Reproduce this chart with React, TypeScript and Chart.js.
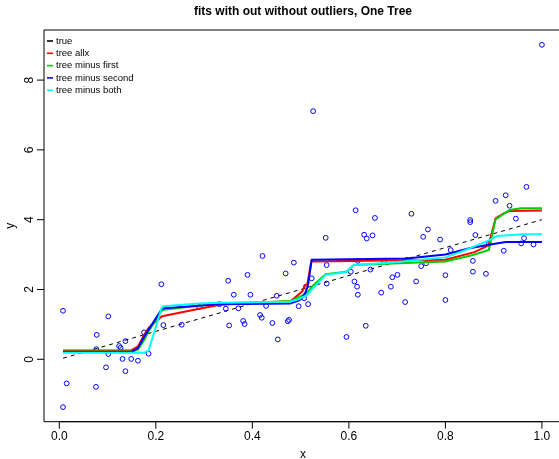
import React, { useEffect, useRef } from "react";
import { Chart, registerables } from "chart.js";

Chart.register(...registerables);

const titleText = "fits with out without outliers, One Tree";
const xTicks = [0, 0.2, 0.4, 0.6, 0.8, 1.0];
const xTickLabels = ["0.0", "0.2", "0.4", "0.6", "0.8", "1.0"];
const yTicks = [0, 2, 4, 6, 8];
const yTickLabels = ["0", "2", "4", "6", "8"];
const legendLabels = ["true", "tree allx", "tree minus first", "tree minus second", "tree minus both"];
const legendColors = ["#000000", "#FF0000", "#00CD00", "#0000FF", "#00FFFF"];

const pointX = [
  0.0077, 0.1016, 0.0775, 0.0767, 0.1756, 0.137, 0.124, 0.127, 0.1016, 0.185,
  0.131, 0.149, 0.163, 0.0968, 0.137, 0.0153, 0.076, 0.0077, 0.2115, 0.2156,
  0.2537, 0.29, 0.3317, 0.345, 0.35, 0.352, 0.3615, 0.371, 0.381, 0.384,
  0.39, 0.396, 0.421, 0.416, 0.4195, 0.4285, 0.4415, 0.4506, 0.4527, 0.469,
  0.486, 0.4735, 0.476, 0.496, 0.5073, 0.5156, 0.523, 0.511, 0.526, 0.552,
  0.554, 0.554, 0.595, 0.604, 0.6115, 0.617, 0.6186, 0.6186, 0.614, 0.6316,
  0.637, 0.649, 0.654, 0.635, 0.6447, 0.667, 0.673, 0.687, 0.69, 0.7007,
  0.7166, 0.72, 0.7297, 0.7394, 0.7498, 0.76, 0.754, 0.7637, 0.789, 0.8,
  0.8, 0.811, 0.8514, 0.8514, 0.862, 0.857, 0.857, 0.884, 0.89, 0.904,
  0.925, 0.933, 0.946, 0.968, 0.963, 0.957, 0.9826, 0.921, 1.0,
];
const pointY = [
  1.39, 1.23, 0.7, 0.29, 0.77, 0.52, 0.38, 0.33, 0.15, 0.16,
  0.01, 0.01, -0.04, -0.23, -0.34, -0.69, -0.79, -1.37, 2.15, 0.98,
  0.99, 1.5, 1.58, 1.45, 2.25, 0.97, 1.85, 1.46, 1.1, 1.01,
  2.42, 1.85, 2.96, 1.27, 1.19, 1.53, 1.04, 1.82, 0.57, 2.46,
  2.77, 1.09, 1.13, 1.52, 1.75, 1.58, 2.32, 2.08, 7.11, 3.48,
  2.17, 2.7, 0.64, 2.51, 2.23, 2.08, 1.85, 2.82, 4.27, 3.57,
  3.46, 3.55, 4.05, 0.96, 2.57, 1.91, 2.82, 2.08, 2.35, 2.42,
  1.64, 2.85, 4.17, 2.23, 2.67, 2.75, 3.51, 3.72, 3.43, 2.41,
  1.7, 3.13, 3.99, 3.93, 3.56, 2.82, 2.51, 2.45, 3.31, 4.54,
  4.7, 4.4, 4.03, 4.94, 3.47, 3.32, 3.29, 3.11, 9.01,
];

const trueX = [0.0077, 1.0];
const trueY = [0.031, 4.0];

const allxX = [0.0077, 0.15, 0.163, 0.176, 0.185, 0.2115, 0.2156, 0.29, 0.333, 0.4, 0.479, 0.489, 0.503, 0.51, 0.514, 0.522, 0.526, 0.8, 0.86, 0.884, 0.89, 0.904, 0.921, 0.933, 1.0];
const allxY = [0.25, 0.26, 0.37, 0.7, 0.9, 1.22, 1.24, 1.45, 1.56, 1.62, 1.66, 1.78, 1.94, 2.13, 2.15, 2.8, 2.8, 2.85, 3.07, 3.23, 3.3, 4.04, 4.18, 4.25, 4.26];

const minusFirstX = [0.0077, 0.15, 0.163, 0.176, 0.185, 0.2115, 0.2156, 0.33, 0.478, 0.496, 0.513, 0.527, 0.552, 0.595, 0.61, 0.8, 0.857, 0.89, 0.904, 0.933, 0.957, 1.0];
const minusFirstY = [0.22, 0.22, 0.28, 0.55, 0.8, 1.38, 1.42, 1.6, 1.66, 1.78, 1.89, 2.13, 2.44, 2.51, 2.7, 2.8, 2.99, 3.13, 4.01, 4.28, 4.33, 4.33];

const minusSecondX = [0.0077, 0.15, 0.163, 0.176, 0.185, 0.2115, 0.2156, 0.33, 0.478, 0.496, 0.503, 0.511, 0.5156, 0.523, 0.72, 0.8, 0.85, 0.89, 0.925, 1.0];
const minusSecondY = [0.21, 0.21, 0.32, 0.65, 0.85, 1.42, 1.46, 1.58, 1.6, 1.68, 1.75, 1.94, 2.15, 2.85, 2.89, 3.0, 3.18, 3.28, 3.36, 3.36];

const minusBothX = [0.0077, 0.176, 0.185, 0.2115, 0.2156, 0.29, 0.33, 0.478, 0.496, 0.513, 0.523, 0.552, 0.595, 0.61, 0.69, 0.8, 0.826, 0.854, 0.889, 0.907, 0.962, 1.0];
const minusBothY = [0.19, 0.19, 0.25, 1.45, 1.52, 1.6, 1.62, 1.65, 1.72, 1.84, 1.99, 2.42, 2.5, 2.7, 2.77, 2.92, 3.05, 3.2, 3.4, 3.53, 3.58, 3.58];

const toXY = (xs: number[], ys: number[]) => xs.map((x, i) => ({ x, y: ys[i] }));

const FONT = "'Liberation Sans', Arial, Helvetica, sans-serif";

const rPlot = {
  id: "rPlot",
  afterDraw(chart: any) {
    const { ctx, chartArea, scales } = chart;
    const xs = scales.x;
    const ys = scales.y;
    const L = chartArea.left;
    const T = chartArea.top;
    const B = chartArea.bottom;
    const R = chartArea.right;
    ctx.save();
    ctx.strokeStyle = "#000";
    ctx.fillStyle = "#000";
    ctx.lineWidth = 1;
    // box (right edge lies just outside the canvas)
    ctx.beginPath();
    ctx.moveTo(R + 3, T);
    ctx.lineTo(L, T);
    ctx.lineTo(L, B);
    ctx.lineTo(R + 3, B);
    ctx.stroke();
    // x axis
    ctx.font = `12px ${FONT}`;
    ctx.textAlign = "center";
    ctx.textBaseline = "middle";
    const x0 = xs.getPixelForValue(xTicks[0]);
    const x1 = xs.getPixelForValue(xTicks[xTicks.length - 1]);
    ctx.beginPath();
    ctx.moveTo(x0, B);
    ctx.lineTo(x1, B);
    ctx.stroke();
    xTicks.forEach((t, i) => {
      const px = xs.getPixelForValue(t);
      ctx.beginPath();
      ctx.moveTo(px, B);
      ctx.lineTo(px, B + 7);
      ctx.stroke();
      ctx.fillText(xTickLabels[i], px, B + 14.5);
    });
    // y axis
    yTicks.forEach((t, i) => {
      const py = ys.getPixelForValue(t);
      ctx.beginPath();
      ctx.moveTo(L - 7, py);
      ctx.lineTo(L, py);
      ctx.stroke();
      ctx.save();
      ctx.translate(L - 14.5, py);
      ctx.rotate(-Math.PI / 2);
      ctx.fillText(yTickLabels[i], 0, 0);
      ctx.restore();
    });
    // axis titles
    const cx = (L + R + 3) / 2;
    ctx.fillText("x", cx, B + 33);
    ctx.save();
    ctx.translate(11, (T + B) / 2);
    ctx.rotate(-Math.PI / 2);
    ctx.fillText("y", 0, 0);
    ctx.restore();
    // title
    ctx.font = `bold 12px ${FONT}`;
    ctx.fillText(titleText, cx, 12);
    // legend
    ctx.font = `9.5px ${FONT}`;
    ctx.textAlign = "left";
    legendLabels.forEach((lab, i) => {
      const y = 41 + i * 12.3;
      ctx.strokeStyle = legendColors[i];
      ctx.lineWidth = 1.6;
      ctx.beginPath();
      ctx.moveTo(L + 3, y);
      ctx.lineTo(L + 9, y);
      ctx.stroke();
      ctx.fillStyle = "#000";
      ctx.fillText(lab, L + 12, y);
    });
    ctx.restore();
  },
};

export default function App() {
  const ref = useRef<HTMLCanvasElement | null>(null);
  useEffect(() => {
    if (!ref.current) return;
    const lineDs = (label: string, xs: number[], ys: number[], color: string, width: number, dash: number[] = []) => ({
      label,
      data: toXY(xs, ys),
      showLine: true,
      borderColor: color,
      backgroundColor: color,
      borderWidth: width,
      borderDash: dash,
      pointRadius: 0,
      pointHoverRadius: 0,
      tension: 0,
      fill: false,
    });
    const chart = new Chart(ref.current, {
      type: "scatter",
      data: {
        datasets: [
          lineDs("tree minus both", minusBothX, minusBothY, "#00FFFF", 2),
          lineDs("tree minus second", minusSecondX, minusSecondY, "#0000FF", 2),
          lineDs("tree minus first", minusFirstX, minusFirstY, "#00CD00", 2),
          lineDs("tree allx", allxX, allxY, "#FF0000", 2),
          lineDs("true", trueX, trueY, "#000000", 1, [4, 4]),
          {
            label: "data",
            data: toXY(pointX, pointY),
            showLine: false,
            pointStyle: "circle",
            pointRadius: 2.4,
            pointBorderWidth: 1,
            borderColor: "#0000FF",
            pointBorderColor: "#0000FF",
            backgroundColor: "rgba(0,0,0,0)",
            pointBackgroundColor: "rgba(0,0,0,0)",
          } as any,
        ],
      },
      options: {
        responsive: false,
        animation: false,
        layout: { autoPadding: false, padding: { left: 44, top: 30, right: 0, bottom: 37.3 } },
        plugins: { legend: { display: false }, title: { display: false }, tooltip: { enabled: false } },
        scales: {
          x: { type: "linear", display: false, min: -0.0317, max: 1.0354 },
          y: { type: "linear", display: false, min: -1.788, max: 9.435 },
        },
      },
      plugins: [rPlot],
    });
    return () => chart.destroy();
  }, []);
  return (
    <div style={{ position: "absolute", left: 0, top: 0, width: 559, height: 459, background: "#fff" }}>
      <canvas ref={ref} width={559} height={459} style={{ display: "block" }} />
    </div>
  );
}
